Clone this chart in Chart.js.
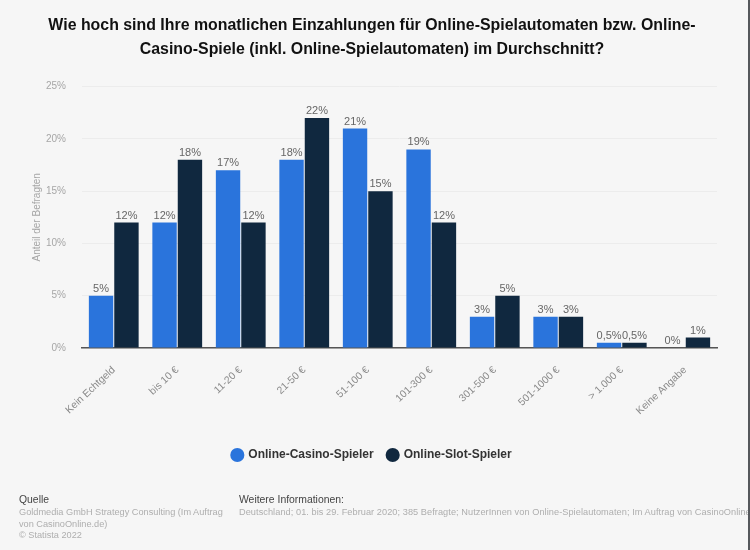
<!DOCTYPE html>
<html lang="de">
<head>
<meta charset="utf-8">
<title>Einzahlungen Online-Spielautomaten</title>
<script src="https://cdn.jsdelivr.net/npm/chart.js@4"></script>
<style>
  html, body { margin: 0; padding: 0; background: #f6f6f6; }
  #page { position: relative; width: 750px; height: 550px; overflow: hidden; font-family: "Liberation Sans", Arial, sans-serif; }
  #page canvas { position: absolute; left: 0; top: 0; }
  #edge { position: absolute; left: 748px; top: 0; width: 2px; height: 550px; background: #55585c; }
  .ft { position: absolute; font-size: 9.2px; line-height: 11.8px; color: #aeaeae; white-space: nowrap; }
  .ft b { font-weight: 400; font-size: 10.4px; letter-spacing: 0; color: #444; display: block; margin-bottom: 1px; }
</style>
</head>
<body>
<div id="page">
  <canvas id="c" width="750" height="550"></canvas>
  <div class="ft" style="left:19px;top:494px"><b>Quelle</b>Goldmedia GmbH Strategy Consulting (Im Auftrag<br>von CasinoOnline.de)<br>© Statista 2022</div>
  <div class="ft" style="left:239px;top:494px;letter-spacing:.06px"><b>Weitere Informationen:</b>Deutschland; 01. bis 29. Februar 2020; 385 Befragte; NutzerInnen von Online-Spielautomaten; Im Auftrag von CasinoOnline.de</div>
  <div id="edge"></div>
</div>
<script>
  var categories = ['Kein Echtgeld', 'bis 10 €', '11-20 €', '21-50 €', '51-100 €', '101-300 €', '301-500 €', '501-1000 €', '> 1.000 €', 'Keine Angabe'];
  var casinoValues = [5, 12, 17, 18, 21, 19, 3, 3, 0.5, 0];
  var slotValues = [12, 18, 12, 22, 15, 12, 5, 3, 0.5, 1];
  var titleLines = ['Wie hoch sind Ihre monatlichen Einzahlungen für Online-Spielautomaten bzw. Online-', 'Casino-Spiele (inkl. Online-Spielautomaten) im Durchschnitt?'];

  function pct(v) { return String(v).replace('.', ',') + '%'; }

  // value labels above the bars
  var barLabels = {
    id: 'barLabels',
    afterDatasetsDraw: function (ch) {
      var ct = ch.ctx;
      ct.save();
      ct.font = '11px "Liberation Sans", Arial, sans-serif';
      ct.fillStyle = '#666';
      ct.textAlign = 'center';
      ch.data.datasets.forEach(function (ds, di) {
        ch.getDatasetMeta(di).data.forEach(function (bar, i) {
          ct.fillText(pct(ds.data[i]), bar.x, bar.y - 7);
        });
      });
      ct.restore();
    }
  };

  new Chart(document.getElementById('c').getContext('2d'), {
    type: 'bar',
    data: {
      labels: categories,
      datasets: [
        { label: 'Online-Casino-Spieler', data: casinoValues, backgroundColor: '#2a74dc', categoryPercentage: 0.8, barPercentage: 0.96 },
        { label: 'Online-Slot-Spieler', data: slotValues, backgroundColor: '#10283f', categoryPercentage: 0.8, barPercentage: 0.96 }
      ]
    },
    options: {
      responsive: false,
      animation: false,
      layout: { padding: { top: 10, left: 27, right: 33, bottom: 79 } },
      plugins: {
        title: {
          display: true, text: titleLines, color: '#111',
          font: { family: '"Liberation Sans", Arial, sans-serif', size: 15.9, weight: 'bold', lineHeight: 1.5 },
          padding: { top: 4, bottom: 25 }
        },
        legend: {
          position: 'bottom',
          labels: {
            usePointStyle: true, pointStyle: 'circle', boxWidth: 10, boxHeight: 10, padding: 14, color: '#333',
            font: { family: '"Liberation Sans", Arial, sans-serif', size: 12, weight: 'bold' }
          }
        },
        tooltip: { enabled: false }
      },
      scales: {
        y: {
          min: 0, max: 25,
          afterFit: function (s) { s.width = 55; },
          grid: { color: '#ececec', drawTicks: false },
          border: { display: false },
          ticks: { stepSize: 5, padding: 16, color: '#a6a6a6', font: { family: '"Liberation Sans", Arial, sans-serif', size: 10 }, callback: function (v) { return v + '%'; } },
          title: { display: true, text: 'Anteil der Befragten', color: '#a6a6a6', font: { family: '"Liberation Sans", Arial, sans-serif', size: 10 }, padding: { bottom: 0 } }
        },
        x: {
          afterFit: function (s) { s.height = 87; },
          grid: { display: false },
          border: { color: '#555', width: 1.5 },
          ticks: { minRotation: 43, maxRotation: 43, autoSkip: false, padding: 8, color: '#8a8a8a', font: { family: '"Liberation Sans", Arial, sans-serif', size: 10.3 } }
        }
      }
    },
    plugins: [barLabels]
  });
</script>
</body>
</html>
